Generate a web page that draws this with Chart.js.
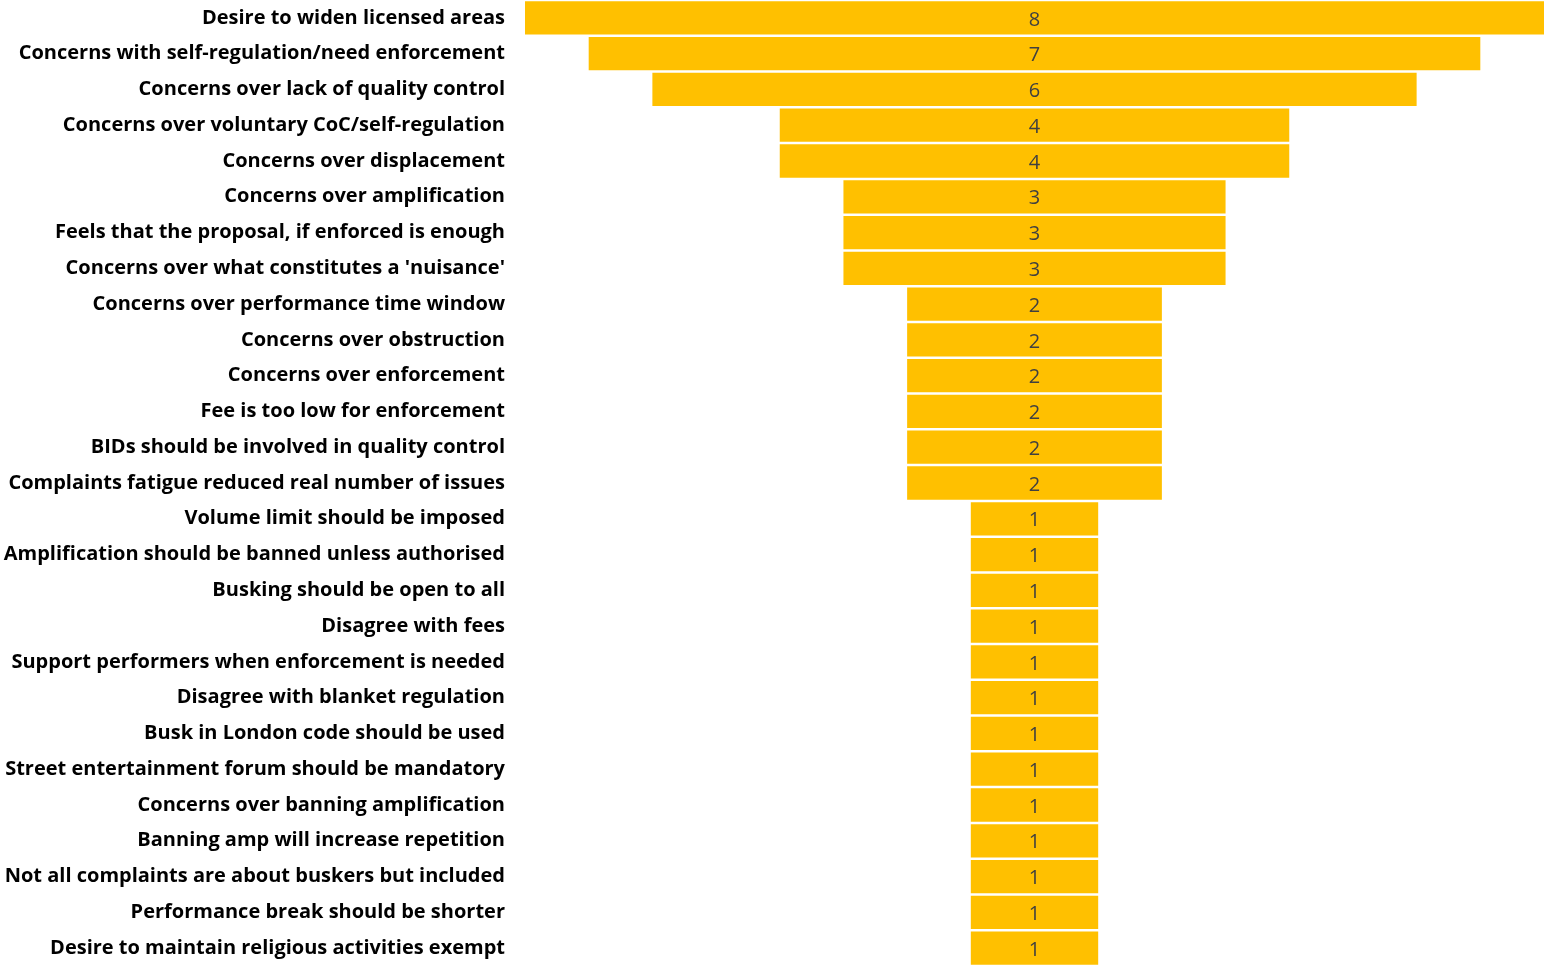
<!DOCTYPE html>
<html lang="en">

<head>
    <meta charset="UTF-8">
    <title>Funnel</title>
    <style>
        body { margin: 0; background: #fff; }
        #wrap { width: 1544px; height: 966px; }
    </style>
</head>

<body>
    <div id="wrap">
        <canvas id="myChart"></canvas>
    </div>

    <script src="https://cdn.jsdelivr.net/npm/chart.js"></script>
    <script type="text/javascript">
        const categories = [
            'Desire to widen licensed areas',
            'Concerns with self-regulation/need enforcement',
            'Concerns over lack of quality control',
            'Concerns over voluntary CoC/self-regulation',
            'Concerns over displacement',
            'Concerns over amplification',
            'Feels that the proposal, if enforced is enough',
            "Concerns over what constitutes a 'nuisance'",
            'Concerns over performance time window',
            'Concerns over obstruction',
            'Concerns over enforcement',
            'Fee is too low for enforcement',
            'BIDs should be involved in quality control',
            'Complaints fatigue reduced real number of issues',
            'Volume limit should be imposed',
            'Amplification should be banned unless authorised',
            'Busking should be open to all',
            'Disagree with fees',
            'Support performers when enforcement is needed',
            'Disagree with blanket regulation',
            'Busk in London code should be used',
            'Street entertainment forum should be mandatory',
            'Concerns over banning amplification',
            'Banning amp will increase repetition',
            'Not all complaints are about buskers but included',
            'Performance break should be shorter',
            'Desire to maintain religious activities exempt'
        ];
        const counts = [8, 7, 6, 4, 4, 3, 3, 3, 2, 2, 2, 2, 2, 2,
            1, 1, 1, 1, 1, 1, 1, 1, 1, 1, 1, 1, 1];

        // funnel: each bar floats around zero
        const floating = counts.map(v => [-v / 2, v / 2]);

        // value in the middle of each bar
        const centerLabels = {
            id: 'centerLabels',
            afterDatasetsDraw(chart) {
                const c = chart.ctx;
                const meta = chart.getDatasetMeta(0);
                const x = chart.scales.x.getPixelForValue(0);
                c.save();
                c.font = '20px "Open Sans"';
                c.fillStyle = '#404040';
                c.textAlign = 'center';
                c.textBaseline = 'middle';
                meta.data.forEach((bar, i) => {
                    c.fillText(String(counts[i]), x, bar.y + 2);
                });
                c.restore();
            }
        };

        const ctx = document.getElementById('myChart');
        new Chart(ctx, {
            type: 'bar',
            data: {
                labels: categories,
                datasets: [{
                    data: floating,
                    backgroundColor: '#FFC000',
                    borderWidth: 0,
                    barPercentage: 0.93,
                    categoryPercentage: 1.0
                }]
            },
            options: {
                indexAxis: 'y',
                responsive: true,
                maintainAspectRatio: false,
                animation: false,
                layout: { padding: 0 },
                plugins: {
                    legend: { display: false },
                    tooltip: { enabled: false }
                },
                scales: {
                    x: {
                        display: false,
                        min: -4,
                        max: 4
                    },
                    y: {
                        afterFit(scale) {
                            scale.width = 525;
                            scale.paddingTop = 0;
                            scale.paddingBottom = 0;
                        },
                        grid: { display: false, drawTicks: false },
                        border: { display: false },
                        ticks: {
                            padding: 20,
                            color: '#000',
                            autoSkip: false,
                            font: { family: 'Open Sans', size: 20, weight: 'bold' }
                        }
                    }
                }
            },
            plugins: [centerLabels]
        });
    </script>
</body>

</html>
